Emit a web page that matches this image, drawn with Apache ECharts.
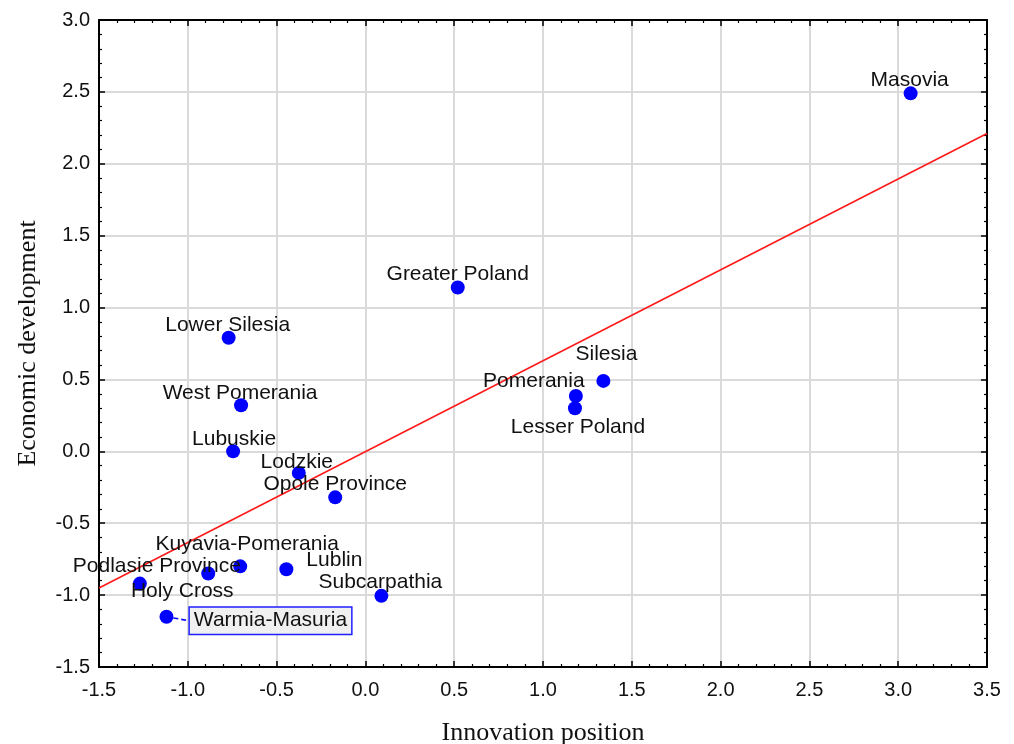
<!DOCTYPE html>
<html>
<head>
<meta charset="utf-8">
<script src="https://cdn.jsdelivr.net/npm/echarts@6/dist/echarts.min.js"></script>
<style>html,body{margin:0;padding:0;background:#fff}#c{width:1014px;height:744px}</style>
</head>
<body>
<div id="c"></div>
<script>
// Data
const regions = ["Masovia","Greater Poland","Lower Silesia","West Pomerania","Lubuskie","Lodzkie","Opole Province","Silesia","Pomerania","Lesser Poland","Kuyavia-Pomerania","Podlasie Province","Lublin","Holy Cross","Subcarpathia","Warmia-Masuria"];
const innovation = [3.07, 0.52, -0.77, -0.70, -0.745, -0.375, -0.17, 1.34, 1.185, 1.18, -0.705, -1.27, -0.445, -0.885, 0.09, -1.12];
const economic = [2.49, 1.14, 0.79, 0.32, 0.0, -0.15, -0.32, 0.49, 0.385, 0.30, -0.80, -0.92, -0.82, -0.85, -1.005, -1.15];
const trendX = [-1.5, 3.5];
const trendY = [-0.95, 2.21];
const xTicks = ["-1.5","-1.0","-0.5","0.0","0.5","1.0","1.5","2.0","2.5","3.0","3.5"];
const yTicks = ["-1.5","-1.0","-0.5","0.0","0.5","1.0","1.5","2.0","2.5","3.0"];

// label placement (pixel offsets from point centre)
const labelOffsets = {
  "Masovia":[-1,-13],"Greater Poland":[0,-13],"Lower Silesia":[-1,-13],"West Pomerania":[-1,-12],
  "Lubuskie":[1,-12],"Lodzkie":[-2,-11],"Opole Province":[0,-13],"Silesia":[3,-27],
  "Pomerania":[-42,-15],"Lesser Poland":[3,19],"Kuyavia-Pomerania":[7,-22],"Podlasie Province":[17,-17],
  "Lublin":[48,-9],"Holy Cross":[-26,18],"Subcarpathia":[-1,-14],"Warmia-Masuria":[104,4]
};

const chart = echarts.init(document.getElementById('c'));
const FONT = "'Liberation Sans', Arial, sans-serif";
const SERIF = "'Liberation Serif', 'Times New Roman', serif";

const pts = regions.map((n,i)=>{
  const item = {name:n, value:[innovation[i], economic[i]]};
  if (n === "Warmia-Masuria") {
    item.label = {backgroundColor:'#f0f0f0', borderColor:'#1f1fff', borderWidth:1.5, padding:[3,4,2,4]};
    item.labelLine = {show:true, lineStyle:{color:'#0000ff', type:[5,3], width:1.6, opacity:1}};
  }
  return item;
});

const baseAxis = {
  interval: 0.5,
  axisLine:{show:true, onZero:false, lineStyle:{color:'#000', width:2}},
  axisTick:{show:true, inside:true, length:6, lineStyle:{color:'#000', width:1.5}},
  minorTick:{show:true, splitNumber:5, length:3, lineStyle:{color:'#000', width:1.2}},
  minorSplitLine:{show:false}
};

chart.setOption({
  animation:false,
  backgroundColor:'#fff',
  grid:{left:99, right:27, top:20, bottom:77, containLabel:false, outerBoundsMode:'none'},
  xAxis:[
    Object.assign({}, baseAxis, {type:'value', min:-1.5, max:3.5, position:'bottom',
      name:'Innovation position', nameLocation:'middle', nameGap:53,
      nameTextStyle:{fontFamily:SERIF, fontSize:26, color:'#111'},
      axisLabel:{fontFamily:FONT, fontSize:20, color:'#111', margin:13,
        formatter:v=>{const s=v.toFixed(1); return xTicks.includes(s)?s:'';}},
      splitLine:{show:true, lineStyle:{color:'#dadada', width:2}}}),
    Object.assign({}, baseAxis, {type:'value', min:-1.5, max:3.5, position:'top',
      axisLabel:{show:false}, splitLine:{show:false}})
  ],
  yAxis:[
    Object.assign({}, baseAxis, {type:'value', min:-1.5, max:3.0, position:'left',
      name:'Economic development', nameLocation:'middle', nameGap:58, nameRotate:90,
      nameTextStyle:{fontFamily:SERIF, fontSize:26, color:'#111'},
      axisLabel:{fontFamily:FONT, fontSize:20, color:'#111', margin:9,
        formatter:v=>{const s=v.toFixed(1); return yTicks.includes(s)?s:'';}},
      splitLine:{show:true, lineStyle:{color:'#dadada', width:2}}}),
    Object.assign({}, baseAxis, {type:'value', min:-1.5, max:3.0, position:'right',
      axisLabel:{show:false}, splitLine:{show:false}})
  ],
  series:[
    {
      type:'line', xAxisIndex:0, yAxisIndex:0,
      data: trendX.map((x,i)=>[x, trendY[i]]),
      symbol:'none', lineStyle:{color:'#ff1a1a', width:1.6}, z:3, silent:true
    },
    {
      type:'scatter', xAxisIndex:0, yAxisIndex:0,
      data: pts, symbol:'circle', symbolSize:14,
      itemStyle:{color:'#0000ff', opacity:1}, z:4,
      label:{show:true, position:'inside', formatter:p=>p.name,
        fontFamily:FONT, fontSize:21, color:'#111', opacity:1},
      labelLayout: function(params){
        const n = regions[params.dataIndex];
        const o = labelOffsets[n] || [0,-14];
        return {dx:o[0], dy:o[1]};
      },
      labelLine:{show:false}
    }
  ]
});
</script>
</body>
</html>
